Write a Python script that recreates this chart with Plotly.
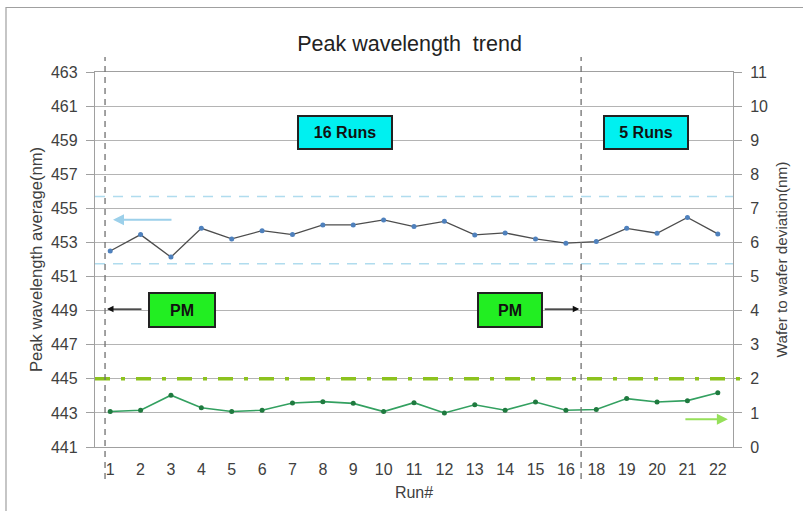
import plotly.graph_objects as go

# ---- data ----
run_labels = ["1", "2", "3", "4", "5", "6", "7", "8", "9", "10", "11",
              "12", "13", "14", "15", "16", "18", "19", "20", "21", "22"]
peak_avg = [452.5, 453.46, 452.14, 453.83, 453.21, 453.69, 453.46, 454.03, 454.03, 454.32, 453.93,
            454.24, 453.44, 453.56, 453.21, 452.96, 453.05, 453.83, 453.54, 454.47, 453.5]
w2w_dev = [1.04, 1.08, 1.52, 1.15, 1.04, 1.08, 1.29, 1.33, 1.28, 1.04, 1.3,
           1.0, 1.24, 1.08, 1.32, 1.08, 1.1, 1.42, 1.32, 1.36, 1.59]
left_ticks = [441, 443, 445, 447, 449, 451, 453, 455, 457, 459, 461, 463]
right_ticks = list(range(0, 12))
control_limits = [455.7, 451.75]   # light-blue dashed limits (left axis)
dev_spec = [2]                     # dash-dot spec line (right axis)
pm_positions = [-0.17, 15.5]       # PM events (x positions between runs)

x = list(range(len(run_labels)))

fig = go.Figure()
fig.add_trace(go.Scatter(
    x=x, y=peak_avg, mode="lines+markers", yaxis="y",
    line=dict(color="#4d4d4d", width=1.3),
    marker=dict(color="#4f81bd", size=5),
    showlegend=False))
fig.add_trace(go.Scatter(
    x=x, y=w2w_dev, mode="lines+markers", yaxis="y2",
    line=dict(color="#33a060", width=1.6),
    marker=dict(color="#1f7a3f", size=5),
    showlegend=False))

shapes = []
for v in control_limits:
    shapes.append(dict(type="line", xref="paper", x0=0, x1=1, yref="y", y0=v, y1=v,
                       line=dict(color="#b0dcee", width=1.5, dash="10px,8px"), layer="above"))
for v in dev_spec:
    shapes.append(dict(type="line", xref="paper", x0=0, x1=1.012, yref="y2", y0=v, y1=v,
                       line=dict(color="#8cc21e", width=3.5, dash="15px,11px,4px,11px"), layer="above"))
for p in pm_positions:
    shapes.append(dict(type="line", xref="x", x0=p, x1=p, yref="paper", y0=-0.085, y1=1.04,
                       line=dict(color="#707070", width=1.3, dash="6px,5px"), layer="above"))
# outer frame
shapes.append(dict(type="rect", xref="paper", yref="paper", x0=-0.1395, x1=1.2, y0=-0.3, y1=1.172,
                   line=dict(color="#a0a0a0", width=1.2), fillcolor="rgba(0,0,0,0)"))

box_font = dict(family="Liberation Sans, Arial", size=16, color="#111111")
box_common = dict(xref="paper", yref="paper", showarrow=False, xanchor="center", yanchor="middle",
                  bordercolor="#222222", borderwidth=2, borderpad=2, font=box_font)
annotations = [
    dict(text="<b>16 Runs</b>", x=0.392, y=0.839, bgcolor="#00f0f0", width=88, height=27, **box_common),
    dict(text="<b>5 Runs</b>", x=0.864, y=0.839, bgcolor="#00f0f0", width=78, height=27, **box_common),
    dict(text="<b>PM</b>", x=0.1356, y=0.366, bgcolor="#22ee22", width=60, height=28, **box_common),
    dict(text="<b>PM</b>", x=0.650, y=0.366, bgcolor="#22ee22", width=58, height=28, **box_common),
    # PM arrows
    dict(text="", xref="paper", yref="paper", x=0.0188, y=0.3677, ax=36, ay=0,
         showarrow=True, arrowhead=2, arrowsize=1, arrowwidth=1.3, arrowcolor="#111111"),
    dict(text="", xref="paper", yref="paper", x=0.759, y=0.3677, ax=-36, ay=0,
         showarrow=True, arrowhead=2, arrowsize=1, arrowwidth=1.3, arrowcolor="#111111"),
    # axis-pointer arrows
    dict(text="", xref="paper", yref="paper", x=0.0282, y=0.606, ax=60, ay=0,
         showarrow=True, arrowhead=2, arrowsize=1, arrowwidth=2.2, arrowcolor="#9cd0ea"),
    dict(text="", xref="paper", yref="paper", x=0.992, y=0.074, ax=-44, ay=0,
         showarrow=True, arrowhead=2, arrowsize=1, arrowwidth=2.2, arrowcolor="#96e05a"),
]

tick_font = dict(family="Liberation Sans, Arial", size=16, color="#404040")
fig.update_layout(
    width=803, height=511,
    margin=dict(l=95, r=70, t=72, b=61),
    paper_bgcolor="white", plot_bgcolor="white",
    title=dict(text="Peak wavelength  trend", x=0.51, xanchor="center", y=1 - 43 / 511, yanchor="middle",
               font=dict(family="Liberation Sans, Arial", size=21.5, color="#222222")),
    xaxis=dict(range=[-0.5, len(run_labels) - 0.5], tickmode="array", tickvals=x, ticktext=run_labels,
               showgrid=False, zeroline=False, showline=True, linecolor="#a0a0a0", linewidth=1.3,
               mirror=True, ticks="outside", ticklen=8, tickcolor="rgba(0,0,0,0)", tickfont=tick_font,
               title=dict(text="Run#", font=dict(family="Liberation Sans, Arial", size=16, color="#404040"),
                          standoff=9)),
    yaxis=dict(range=[441, 463], tickmode="array", tickvals=left_ticks,
               showgrid=True, gridcolor="#b4b4b4", gridwidth=1, zeroline=False,
               showline=True, linecolor="#a0a0a0", linewidth=1.3, mirror=True,
               ticks="outside", ticklen=8, tickcolor="#a0a0a0", tickfont=tick_font,
               ticklabelstandoff=5,
               title=dict(text="Peak wavelength average(nm)",
                          font=dict(family="Liberation Sans, Arial", size=16.6, color="#404040"),
                          standoff=4)),
    yaxis2=dict(range=[0, 11], tickmode="array", tickvals=right_ticks, overlaying="y", side="right",
                showgrid=False, zeroline=False, showline=False,
                ticks="outside", ticklen=8, tickcolor="#a0a0a0", tickfont=tick_font,
                ticklabelstandoff=5,
                title=dict(text="Wafer to wafer deviation(nm)",
                           font=dict(family="Liberation Sans, Arial", size=15.3, color="#404040"),
                           standoff=9)),
    shapes=shapes, annotations=annotations,
)

fig.write_html("out.html", config={"displayModeBar": False},
               post_script="document.body.style.margin='0';")
